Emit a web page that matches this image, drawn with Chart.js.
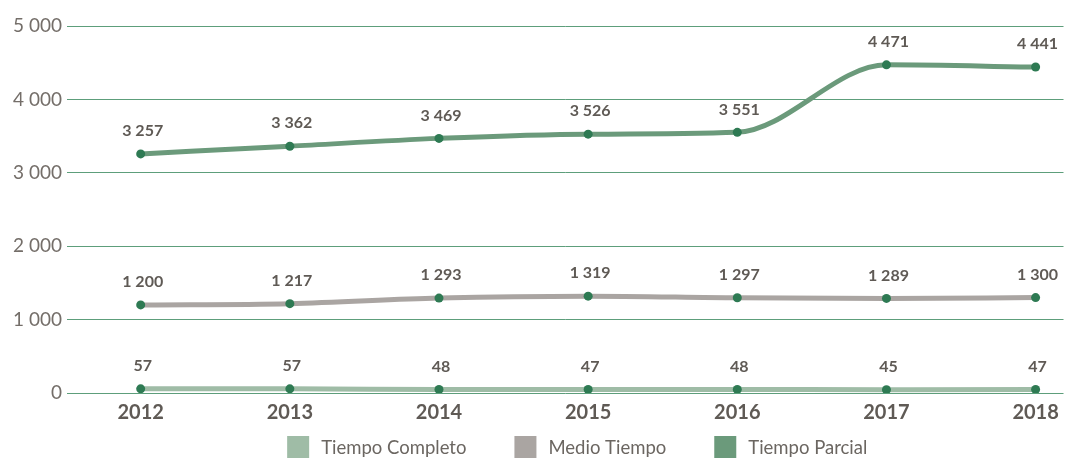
<!DOCTYPE html>
<html>
<head>
<meta charset="utf-8">
<script src="https://cdn.jsdelivr.net/npm/chart.js@4"></script>
<style>
  html, body { margin: 0; padding: 0; background: #fff; }
  #wrap { width: 1068px; height: 458px; }
</style>
</head>
<body>
<div id="wrap"><canvas id="empleoChart"></canvas></div>
<script>
// datos por año
const years = [2012, 2013, 2014, 2015, 2016, 2017, 2018];
const tiempoCompleto = [57, 57, 48, 47, 48, 45, 47];
const medioTiempo = [1200, 1217, 1293, 1319, 1297, 1289, 1300];
const tiempoParcial = [3257, 3362, 3469, 3526, 3551, 4471, 4441];
const yTicks = [0, 1000, 2000, 3000, 4000, 5000];

const FONT = 'Lato, "Open Sans", sans-serif';
const TEXT = '#5f5a55';
const POINT = '#2e7a53';

// "3 257" style
function fmt(v) {
  return String(v).replace(/\B(?=(\d{3})+(?!\d))/g, ' ');
}

function serie(label, values, color) {
  return {
    label: label,
    data: values.map((v, i) => ({ x: years[i], y: v })),
    borderColor: color,
    backgroundColor: color,
    borderWidth: 5,
    cubicInterpolationMode: 'monotone',
    pointRadius: 4.5,
    pointBackgroundColor: POINT,
    pointBorderWidth: 0,
    pointHoverRadius: 4.5
  };
}

// value above every point
const valueLabels = {
  id: 'valueLabels',
  afterDatasetsDraw(chart) {
    const ctx = chart.ctx;
    ctx.save();
    ctx.font = 'bold 16px ' + FONT;
    ctx.fillStyle = TEXT;
    ctx.textAlign = 'center';
    ctx.textBaseline = 'middle';
    chart.data.datasets.forEach((ds, di) => {
      chart.getDatasetMeta(di).data.forEach((pt, i) => {
        ctx.fillText(fmt(ds.data[i].y), pt.x + 2, pt.y - 23);
      });
    });
    ctx.restore();
  }
};

// legend row under the axis
const bottomLegend = {
  id: 'bottomLegend',
  afterDraw(chart) {
    const ctx = chart.ctx;
    const box = 22, gapText = 12, gapItem = 48;
    ctx.save();
    ctx.font = '18.5px ' + FONT;
    const items = chart.data.datasets.map(ds => ({
      text: ds.label,
      color: ds.borderColor,
      w: box + gapText + ctx.measureText(ds.label).width
    }));
    const total = items.reduce((s, it) => s + it.w, 0) + gapItem * (items.length - 1);
    const ca = chart.chartArea;
    let x = (ca.left + ca.right) / 2 + 12 - total / 2;
    const y = chart.height - 22;
    ctx.textBaseline = 'middle';
    ctx.textAlign = 'left';
    items.forEach(it => {
      ctx.fillStyle = it.color;
      ctx.fillRect(x, y, box, box);
      ctx.fillStyle = '#6b6661';
      ctx.fillText(it.text, x + box + gapText, y + box / 2 + 1);
      x += it.w + gapItem;
    });
    ctx.restore();
  }
};

new Chart(document.getElementById('empleoChart'), {
  type: 'line',
  data: {
    datasets: [
      serie('Tiempo Completo', tiempoCompleto, '#9fbca6'),
      serie('Medio Tiempo', medioTiempo, '#aaa5a2'),
      serie('Tiempo Parcial', tiempoParcial, '#6b9a7b')
    ]
  },
  options: {
    responsive: true,
    maintainAspectRatio: false,
    animation: false,
    layout: { padding: { top: 26, bottom: 33, right: 0, left: 0 } },
    plugins: {
      legend: { display: false },
      tooltip: { enabled: false }
    },
    scales: {
      x: {
        type: 'linear',
        min: 2011.506,
        max: 2018.187,
        afterBuildTicks: scale => { scale.ticks = years.map(v => ({ value: v })); },
        grid: { display: false },
        border: { display: false },
        ticks: {
          padding: 0,
          color: TEXT,
          font: { family: FONT, size: 20, weight: 'bold' },
          callback: v => String(v)
        }
      },
      y: {
        min: 0,
        max: 5000,
        afterBuildTicks: scale => { scale.ticks = yTicks.map(v => ({ value: v })); },
        afterFit: scale => { scale.width = 67; },
        grid: { color: '#5d9e7b', lineWidth: 1, drawTicks: false },
        border: { display: false },
        ticks: {
          padding: 5,
          color: '#746e69',
          font: { family: FONT, size: 19 },
          callback: v => fmt(v)
        }
      }
    }
  },
  plugins: [valueLabels, bottomLegend]
});
</script>
</body>
</html>
